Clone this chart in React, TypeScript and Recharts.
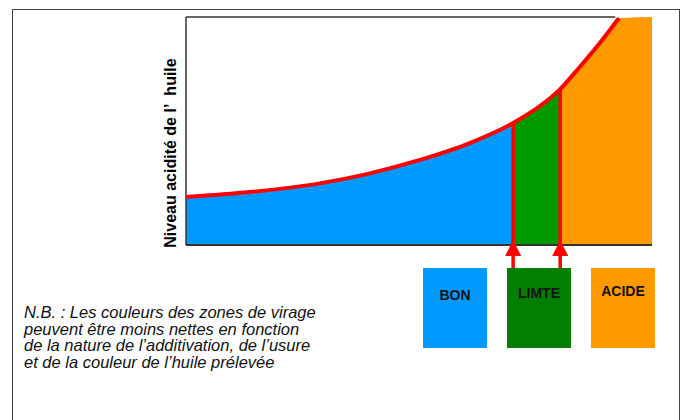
import React from "react"
import { ComposedChart, Area, Line, XAxis, YAxis, ReferenceLine, Legend, Label } from "recharts"

// position le long de l'axe (0..100) et niveau d'acidité
const xPos = [0, 13.7, 28.1, 38.8, 50.2, 60.9, 70.2, 76.0, 80.3, 84.5, 88.8, 92.9, 100]
const curve = [21, 23.2, 26.8, 31.1, 37.3, 44.7, 53.5, 61.0, 68.4, 78.1, 88.6, 99.5, null]
const bon = [21, 23.2, 26.8, 31.1, 37.3, 44.7, 53.5, null, null, null, null, null, null]
const limite = [null, null, null, null, null, null, 53.5, 61.0, 68.4, null, null, null, null]
const acide = [null, null, null, null, null, null, null, null, 68.4, 78.1, 88.6, 99.5, 100]

const zoneNames = ["BON", "LIMTE", "ACIDE"]
const zoneFill = ["#0099FF", "#009900", "#FF9900"]
const zoneBox = ["#0099FF", "#007F00", "#FF9900"]

const yLabel = "Niveau acidité de l’  huile"
const note = [
  "N.B. : Les couleurs des zones de virage",
  "peuvent être moins nettes en fonction",
  "de la nature de l’additivation, de l’usure",
  "et de la couleur de l’huile prélevée",
]

const data = xPos.map((x, i) => ({ x, curve: curve[i], bon: bon[i], limite: limite[i], acide: acide[i] }))

// seuils = points où l'on change de zone
const seuils = [
  { x: xPos[6], y: curve[6] },
  { x: xPos[8], y: curve[8] },
]

const FONT = "'Liberation Sans', Arial, sans-serif"

function ArrowLine(props: any) {
  const { x1, y1, x2, y2 } = props
  const top = Math.min(y1, y2)
  const bottom = Math.max(y1, y2)
  const tip = bottom - 28
  const base = bottom - 12
  return (
    <g>
      <line x1={x1} x2={x2} y1={top} y2={bottom} stroke="#FF0000" strokeWidth={3.5} />
      <polygon points={`${x1},${tip} ${x1 - 8},${base} ${x1 + 8},${base}`} fill="#FF0000" />
    </g>
  )
}

function ZoneBoxes() {
  return (
    <div style={{ display: "flex", gap: 20 }}>
      {zoneNames.map((n, i) => (
        <div
          key={n}
          style={{
            width: 64,
            height: 80,
            background: zoneBox[i],
            textAlign: "center",
            fontFamily: FONT,
            fontWeight: "bold",
            fontSize: 14,
            lineHeight: "16px",
            paddingTop: 19 - i * 2,
            boxSizing: "border-box",
            color: "#111",
          }}
        >
          {n}
        </div>
      ))}
    </div>
  )
}

export default function App() {
  return (
    <div style={{ position: "absolute", left: 0, top: 0, width: 683, height: 420, overflow: "hidden", background: "#fff" }}>
      <div
        style={{
          position: "absolute",
          left: 12,
          top: 9,
          width: 668,
          height: 440,
          border: "1.5px solid #444",
          boxSizing: "border-box",
        }}
      />
      <ComposedChart
        width={683}
        height={420}
        data={data}
        margin={{ top: 17, right: 31, bottom: 175, left: 146 }}
        style={{ position: "absolute", left: 0, top: 0 }}
      >
        <XAxis type="number" dataKey="x" domain={[0, 100]} hide allowDataOverflow />
        <YAxis
          type="number"
          domain={[0, 100]}
          width={40}
          axisLine={false}
          tick={false}
          tickLine={false}
          allowDataOverflow
        >
          <Label
            content={(p: any) => {
              const vb = p.viewBox
              const cx = vb.x + vb.width - 16
              const cy = vb.y + vb.height / 2 + 22
              return (
                <text
                  x={cx}
                  y={cy}
                  transform={`rotate(-90 ${cx} ${cy})`}
                  textAnchor="middle"
                  dominantBaseline="central"
                  style={{ whiteSpace: "pre", fontFamily: FONT, fontWeight: "bold", fontSize: 16, fill: "#000" }}
                >
                  {yLabel}
                </text>
              )
            }}
          />
        </YAxis>
        <Area type="monotone" dataKey="bon" name={zoneNames[0]} fill={zoneFill[0]} fillOpacity={1} stroke="none" isAnimationActive={false} />
        <Area type="monotone" dataKey="limite" name={zoneNames[1]} fill={zoneFill[1]} fillOpacity={1} stroke="none" isAnimationActive={false} />
        <Area type="monotone" dataKey="acide" name={zoneNames[2]} fill={zoneFill[2]} fillOpacity={1} stroke="none" isAnimationActive={false} />
        <ReferenceLine x={0} stroke="#333" strokeWidth={1.5} />
        <ReferenceLine y={0} stroke="#333" strokeWidth={2} />
        <ReferenceLine segment={[{ x: 0, y: 100 }, { x: 92.1, y: 100 }]} stroke="#333" strokeWidth={1.5} />
        {seuils.map((s) => (
          <ReferenceLine
            key={s.x}
            segment={[{ x: s.x, y: s.y }, { x: s.x, y: -10.1 }]}
            ifOverflow="visible"
            shape={ArrowLine}
          />
        ))}
        <Line type="monotone" dataKey="curve" stroke="#FF0000" strokeWidth={4} dot={false} isAnimationActive={false} />
        <Legend
          layout="horizontal"
          verticalAlign="middle"
          align="center"
          content={() => <ZoneBoxes />}
          wrapperStyle={{ position: "absolute", left: 423, top: 268, width: 232, height: 80 }}
        />
      </ComposedChart>
      <div
        style={{
          position: "absolute",
          left: 24,
          top: 304,
          fontFamily: FONT,
          fontStyle: "italic",
          fontSize: 16.5,
          lineHeight: "16.7px",
          color: "#111",
          whiteSpace: "pre",
        }}
      >
        {note.join("\n")}
      </div>
    </div>
  )
}
